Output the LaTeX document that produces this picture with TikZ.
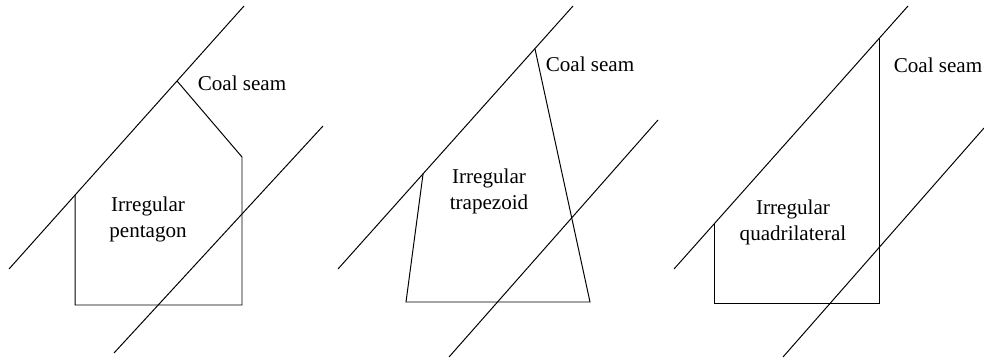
\documentclass[tikz,border=0pt]{standalone}
\usepackage{fontspec}
\setmainfont{Liberation Serif}
\usepackage{tikz}
\usetikzlibrary{positioning, calc}

\begin{document}
\begin{tikzpicture}[x=0.025cm, y=-0.025cm,
        seam/.style={black, line width=0.7pt},
        face/.style={black, line width=0.7pt, line join=miter},
        seamtext/.style={font=\fontsize{15}{17}\selectfont, inner sep=0pt},
        shapetext/.style={font=\fontsize{15}{18.5}\selectfont, align=center, inner sep=0pt}
    ]
        \useasboundingbox (0,0) rectangle (984,362);

        % Pentagon
        \coordinate (s1a) at (9,269);
        \coordinate (s1b) at (244,6);
        \coordinate (s1c) at (114,353);
        \coordinate (s1d) at (323,126);
        \coordinate (p1l) at ($(s1a)!0.281!(s1b)$);
        \coordinate (p1t) at ($(s1a)!0.715!(s1b)$);
        \draw[seam] (s1a) -- (s1b);
        \draw[seam] (s1c) -- (s1d);
        \draw[face] (p1l) -- (p1l |- 0,305) -- (242,305) -- (242,157) -- (p1t);
        \node[seamtext] (cs1) at (242,83) {Coal seam};
        \node[shapetext] (t1) at (148,219) {Irregular\\pentagon};

        % Trapezoid
        \coordinate (s2a) at (338,269);
        \coordinate (s2b) at (573,6);
        \coordinate (s2c) at (449,357);
        \coordinate (s2d) at (658,120);
        \coordinate (p2l) at ($(s2a)!0.362!(s2b)$);
        \coordinate (p2r) at ($(s2a)!0.838!(s2b)$);
        \draw[seam] (s2a) -- (s2b);
        \draw[seam] (s2c) -- (s2d);
        \draw[face] (p2l) -- (406,302) -- (590,302) -- (p2r);
        \node[seamtext] (cs2) at (590,64) {Coal seam};
        \node[shapetext] (t2) at (489,191) {Irregular\\trapezoid};

        % Quadrilateral
        \coordinate (s3a) at (674,269);
        \coordinate (s3b) at (908,6);
        \coordinate (s3c) at (783,357);
        \coordinate (s3d) at (984,128);
        \coordinate (p3l) at ($(s3a)!0.171!(s3b)$);
        \coordinate (p3r) at ($(s3a)!0.876!(s3b)$);
        \draw[seam] (s3a) -- (s3b);
        \draw[seam] (s3c) -- (s3d);
        \draw[face] (p3l) -- (p3l |- 0,303) -- (p3r |- 0,303) -- (p3r);
        \node[seamtext] (cs3) at (938,65) {Coal seam};
        \node[shapetext] (t3) at (793,222) {Irregular\\quadrilateral};

    \end{tikzpicture}
\end{document}
